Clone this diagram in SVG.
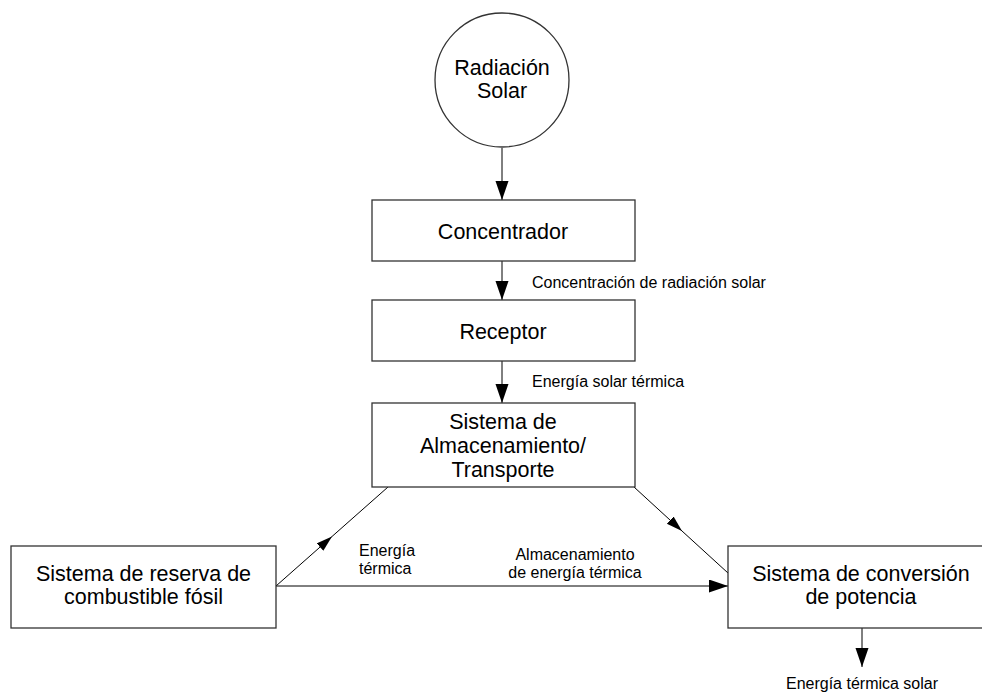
<svg xmlns="http://www.w3.org/2000/svg" width="982" height="693" viewBox="0 0 982 693">
<style>
.box{fill:#fff;stroke:#333;stroke-width:1.3}
.t{font-family:"Liberation Sans",Arial,sans-serif;font-size:21.5px;fill:#000;text-anchor:middle}
.l{font-family:"Liberation Sans",Arial,sans-serif;font-size:16px;fill:#000}
.c{stroke:#000;stroke-width:1;fill:none}
</style>
<defs>
<marker id="ah" markerUnits="userSpaceOnUse" markerWidth="20" markerHeight="14" refX="19" refY="6.5" orient="auto"><path d="M0,0 L19,6.5 L0,13 z" fill="#000"/></marker>
<marker id="as" markerUnits="userSpaceOnUse" markerWidth="18" markerHeight="11" refX="16" refY="5" orient="auto"><path d="M0,0 L16,5 L0,10 z" fill="#000"/></marker>
</defs>
<rect width="982" height="693" fill="#fff"/>
<g id="connectors">
<line class="c" x1="502" y1="148" x2="502" y2="200" marker-end="url(#ah)"/>
<line class="c" x1="502" y1="261" x2="502" y2="300" marker-end="url(#ah)"/>
<line class="c" x1="502" y1="361" x2="502" y2="403" marker-end="url(#ah)"/>
<line class="c" x1="276" y1="586" x2="332" y2="536.5" marker-end="url(#as)"/>
<line class="c" x1="332" y1="536.5" x2="388" y2="487"/>
<line class="c" x1="634" y1="487" x2="682" y2="531" marker-end="url(#as)"/>
<line class="c" x1="682" y1="531" x2="728" y2="573"/>
<line class="c" x1="276" y1="586" x2="728" y2="586" marker-end="url(#ah)"/>
<line class="c" x1="862" y1="628" x2="862" y2="667" marker-end="url(#ah)"/>
<text class="l" x="532" y="288">Concentración de radiación solar</text>
<text class="l" x="532" y="387">Energía solar térmica</text>
<text class="l" x="359" y="556">Energía</text>
<text class="l" x="359" y="574">térmica</text>
<text class="l" x="575" y="560" text-anchor="middle">Almacenamiento</text>
<text class="l" x="575" y="578" text-anchor="middle">de energía térmica</text>
<text class="l" x="862" y="689" text-anchor="middle">Energía térmica solar</text>
</g>
<g id="radiacion">
<circle class="box" cx="502" cy="80" r="67"/>
<text class="t" x="502" y="75">Radiación</text>
<text class="t" x="502" y="98">Solar</text>
</g>
<g id="concentrador">
<rect class="box" x="372" y="200" width="263" height="61"/>
<text class="t" x="503" y="239">Concentrador</text>
</g>
<g id="receptor">
<rect class="box" x="372" y="300" width="263" height="61"/>
<text class="t" x="503" y="339">Receptor</text>
</g>
<g id="almacenamiento">
<rect class="box" x="372" y="403" width="263" height="84"/>
<text class="t" x="503" y="429">Sistema de</text>
<text class="t" x="503" y="453">Almacenamiento/</text>
<text class="t" x="503" y="477">Transporte</text>
</g>
<g id="reserva">
<rect class="box" x="11" y="546" width="265" height="82"/>
<text class="t" x="143.5" y="581">Sistema de reserva de</text>
<text class="t" x="143.5" y="604">combustible fósil</text>
</g>
<g id="conversion">
<rect class="box" x="728" y="546" width="268" height="82"/>
<text class="t" x="861" y="581">Sistema de conversión</text>
<text class="t" x="861" y="604">de potencia</text>
</g>
</svg>
